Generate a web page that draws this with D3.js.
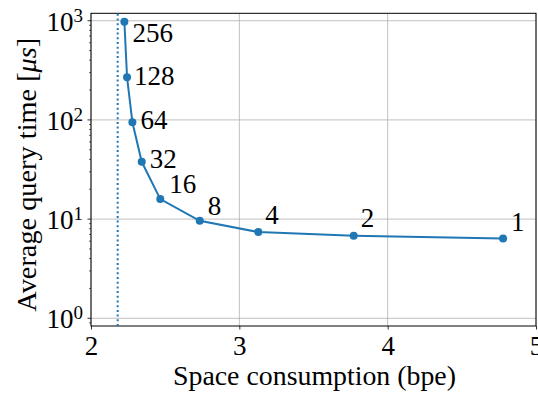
<!DOCTYPE html>
<html>
<head>
<meta charset="utf-8">
<script src="https://cdn.jsdelivr.net/npm/d3@7"></script>
<style>
  body { margin: 0; background: #fff; }
  svg, svg g, svg text, svg tspan { font-family: "Liberation Serif" !important; }
</style>
</head>
<body>
<script>
// data
let bpe = [2.225, 2.243, 2.279, 2.342, 2.467, 2.733, 3.128, 3.771, 4.778]
let queryTime = [977, 269, 94.8, 37.8, 15.9, 9.6, 7.4, 6.8, 6.37]
let pointLabels = ["256", "128", "64", "32", "16", "8", "4", "2", "1"]
let lowerBound = 2.18
let xTicks = [2, 3, 4, 5]
let yExponents = [0, 1, 2, 3]

// per-label offsets (px) of the annotations
let labelDx = [8, 7, 8, 8, 9, 8, 7, 7, 8]
let labelDy = [20, 8, 7, 6, -6, -6, -8, -9, -8]

let width = 538
let height = 394
let padding = {left: 91, right: 2, top: 13.3, bottom: 68}
let blue = "#1f77b4"
let fontName = "Liberation Serif"

let svg = d3.select("body")
    .append("svg")
    .attr("width", width)
    .attr("height", height)
    .attr("font-family", fontName)

let xScale = d3.scaleLinear()
    .domain([2, 5])
    .range([padding.left, width - padding.right])

let yScale = d3.scaleLog()
    .domain([0.836, 1188])
    .range([height - padding.bottom, padding.top])

let x0 = padding.left, x1 = width - padding.right
let y0 = height - padding.bottom, y1 = padding.top

// grid
svg.append("g").selectAll("line")
    .data(xTicks)
    .enter().append("line")
    .attr("x1", d => xScale(d)).attr("x2", d => xScale(d))
    .attr("y1", y0).attr("y2", y1)
    .attr("stroke", "#b0b0b0").attr("stroke-width", 0.8)

svg.append("g").selectAll("line")
    .data(yExponents)
    .enter().append("line")
    .attr("x1", x0).attr("x2", x1)
    .attr("y1", d => yScale(Math.pow(10, d))).attr("y2", d => yScale(Math.pow(10, d)))
    .attr("stroke", "#b0b0b0").attr("stroke-width", 0.8)

// x axis
let xAxis = d3.axisBottom(xScale)
    .tickValues(xTicks)
    .tickSize(3.5)
    .tickPadding(6)
    .tickFormat(d3.format("d"))

let gx = svg.append("g")
    .attr("transform", "translate(0," + y0 + ")")
    .call(xAxis)
    .attr("font-family", fontName)
    .attr("font-size", 27)
gx.select(".domain").remove()
gx.selectAll("line").attr("stroke", "#000").attr("stroke-width", 0.8)
gx.selectAll("text").attr("fill", "#000")

// y axis: minor ticks
let minor = []
for (let e = -1; e <= 3; e++) {
    for (let m = 2; m <= 9; m++) {
        let v = m * Math.pow(10, e)
        if (v > yScale.domain()[0] && v < yScale.domain()[1]) minor.push(v)
    }
}
svg.append("g").selectAll("line")
    .data(minor)
    .enter().append("line")
    .attr("x1", x0 - 2).attr("x2", x0)
    .attr("y1", d => yScale(d)).attr("y2", d => yScale(d))
    .attr("stroke", "#000").attr("stroke-width", 0.6)

let gy = svg.append("g")
gy.selectAll("line")
    .data(yExponents)
    .enter().append("line")
    .attr("x1", x0 - 3.5).attr("x2", x0)
    .attr("y1", d => yScale(Math.pow(10, d))).attr("y2", d => yScale(Math.pow(10, d)))
    .attr("stroke", "#000").attr("stroke-width", 0.8)

let yLab = gy.selectAll("text")
    .data(yExponents)
    .enter().append("text")
    .attr("x", x0 - 8)
    .attr("y", d => yScale(Math.pow(10, d)) + 10)
    .attr("text-anchor", "end")
    .attr("font-size", 27)
yLab.append("tspan").text("10")
yLab.append("tspan")
    .attr("dy", -9)
    .attr("font-size", 19)
    .text(d => d)

// spines
svg.append("rect")
    .attr("x", x0).attr("y", y1)
    .attr("width", x1 - x0).attr("height", y0 - y1)
    .attr("fill", "none").attr("stroke", "#000").attr("stroke-width", 1)

// lower bound
svg.append("line")
    .attr("x1", xScale(lowerBound)).attr("x2", xScale(lowerBound))
    .attr("y1", y0).attr("y2", y1)
    .attr("stroke", blue).attr("stroke-width", 2)
    .attr("stroke-dasharray", "2,2.7")

// curve
let points = bpe.map((d, i) => [d, queryTime[i]])
let line = d3.line()
    .x(d => xScale(d[0]))
    .y(d => yScale(d[1]))

svg.append("path")
    .datum(points)
    .attr("d", line)
    .attr("fill", "none")
    .attr("stroke", blue)
    .attr("stroke-width", 2)

svg.selectAll(".dot")
    .data(points)
    .enter().append("circle")
    .attr("class", "dot")
    .attr("cx", d => xScale(d[0]))
    .attr("cy", d => yScale(d[1]))
    .attr("r", 4)
    .attr("fill", blue)

svg.selectAll(".lbl")
    .data(points)
    .enter().append("text")
    .attr("class", "lbl")
    .attr("x", (d, i) => xScale(d[0]) + labelDx[i])
    .attr("y", (d, i) => yScale(d[1]) + labelDy[i])
    .attr("font-size", 27)
    .text((d, i) => pointLabels[i])

// axis labels
svg.append("text")
    .attr("x", (x0 + x1) / 2 + 1)
    .attr("y", 385)
    .attr("text-anchor", "middle")
    .attr("font-size", 27)
    .attr("textLength", 283)
    .attr("lengthAdjust", "spacingAndGlyphs")
    .text("Space consumption (bpe)")

let yTitle = svg.append("text")
    .attr("transform", "translate(36," + 174.7 + ") rotate(-90)")
    .attr("text-anchor", "middle")
    .attr("font-size", 27)
    .attr("textLength", 274)
    .attr("lengthAdjust", "spacingAndGlyphs")
yTitle.append("tspan").text("Average query time [")
yTitle.append("tspan").attr("font-style", "italic").text("μs")
yTitle.append("tspan").text("]")
</script>
</body>
</html>
